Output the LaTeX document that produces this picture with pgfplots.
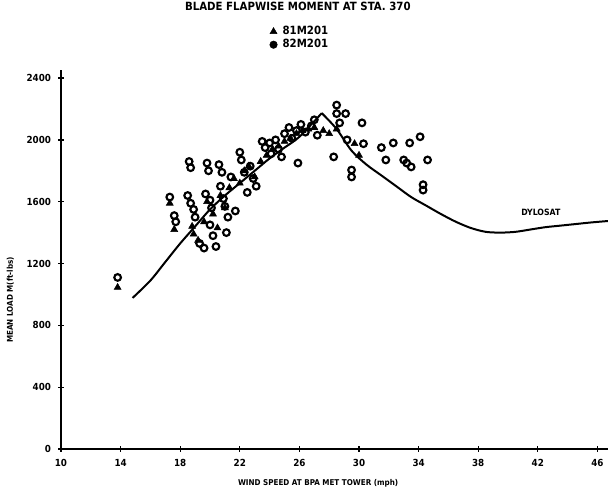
\documentclass[border=0pt]{standalone}
\usepackage{pgfplots}
\pgfplotsset{compat=1.18}
\usepackage{fontspec}
\setmainfont{DejaVu Sans Condensed}
\pgfplotstableread{
x y
13.8 1045
17.3 1590
17.6 1420
18.8 1440
18.9 1390
19.2 1350
19.6 1470
19.8 1600
20.2 1520
20.5 1430
20.7 1640
21.0 1560
21.3 1690
21.6 1750
22.0 1720
22.3 1800
22.6 1830
23.0 1760
23.4 1860
23.8 1900
24.2 1940
24.6 1960
25.0 1990
25.4 2010
25.8 2040
26.2 2060
26.6 2070
27.0 2080
27.6 2060
28.0 2040
28.5 2070
29.7 1975
30.0 1900
}\seriesA
\pgfplotstableread{
x y
13.8 1110
17.3 1630
17.6 1510
17.7 1470
18.6 1860
18.7 1820
18.5 1640
18.7 1590
18.9 1550
19.0 1500
19.3 1330
19.6 1300
19.8 1850
19.9 1800
19.7 1650
20.0 1610
20.1 1560
20.0 1450
20.2 1380
20.4 1310
20.6 1840
20.8 1790
20.7 1700
20.9 1620
21.0 1570
21.2 1500
21.1 1400
21.4 1760
21.7 1540
22.0 1920
22.1 1870
22.3 1790
22.5 1660
22.7 1830
22.9 1750
23.1 1700
23.5 1990
23.7 1950
24.0 1980
24.1 1910
24.4 2000
24.6 1940
24.8 1890
25.0 2040
25.3 2080
25.5 2010
25.8 2060
26.1 2100
25.9 1850
26.4 2050
26.8 2090
27.2 2030
27.0 2130
28.5 2225
28.5 2170
29.1 2170
28.7 2110
28.3 1890
29.2 2000
29.5 1805
29.5 1760
30.2 2110
30.3 1975
31.5 1950
32.3 1980
31.8 1870
33.4 1980
34.1 2020
33.0 1870
33.2 1850
33.5 1825
34.6 1870
34.3 1710
34.3 1675
}\seriesB
\pgfplotstableread{
x y
14.8 977
16.0 1090
17.0 1210
18.0 1330
19.0 1440
20.0 1550
21.0 1640
22.0 1720
23.0 1800
24.0 1880
25.0 1950
26.0 2020
27.5 2173
}\curveUp
\pgfplotstableread{
x y
27.5 2173
28.5 2070
29.5 1930
30.5 1840
31.5 1770
32.5 1700
33.5 1630
34.5 1575
35.5 1520
36.5 1470
37.5 1430
38.5 1405
39.5 1400
40.5 1405
41.5 1420
42.5 1435
43.5 1445
44.5 1455
45.5 1465
46.7 1475
}\curveDown
\begin{document}
\begin{tikzpicture}
\useasboundingbox (0,0) rectangle (456.75pt,372.75pt);
\begin{axis}[
  at={(45.75pt,36pt)}, anchor=south west,
  scale only axis, width=410.25pt, height=284.25pt,
  xmin=10, xmax=46.71, ymin=0, ymax=2452,
  axis lines=left, axis line style={-, line width=1.1pt},
  xtick={10,14,...,46}, ytick={0,400,...,2400},
  tick align=center, major tick length=4pt,
  tick style={line width=1pt, black},
  /pgf/number format/assume math mode=true,
  /pgf/number format/set thousands separator={},
  ticklabel style={font=\bfseries\fontsize{7.3}{8}\selectfont},
  xticklabel style={yshift=-2pt},
  yticklabel style={xshift=-2pt},
  xlabel={WIND SPEED AT BPA MET TOWER (mph)},
  ylabel={MEAN LOAD M(ft-lbs)},
  label style={font=\bfseries\fontsize{6}{7}\selectfont},
  xlabel style={at={(axis description cs:0.470,0)}, anchor=center, yshift=-25.5pt},
  ylabel style={at={(axis description cs:-0.0925,0.393)}, anchor=center, rotate=0},
  title={BLADE FLAPWISE MOMENT AT STA. 370},
  title style={at={(axis description cs:0.433,1.148)}, anchor=center, font=\bfseries\fontsize{8.5}{10}\selectfont},
  legend style={at={(axis description cs:0.44,1.084)}, anchor=center, draw=none, fill=none,
    font=\bfseries\fontsize{8.5}{9}\selectfont, row sep=0pt, inner sep=0pt,
    nodes={inner xsep=4pt, inner ysep=1pt}},
  legend cell align=left,
  clip=false,
]
\addplot[only marks, mark=triangle*, mark size=3pt, black] table {\seriesA};
\addlegendentry{81M201}
\addplot[only marks, mark=o, mark size=2.5pt, line width=1.6pt, black,
  legend image post style={mark=*, mark size=2.8pt, line width=0.4pt}] table {\seriesB};
\addlegendentry{82M201}
\addplot[smooth, line width=1.5pt, black, forget plot] table {\curveUp};
\addplot[smooth, line width=1.5pt, black, forget plot] table {\curveDown};
\node[font=\bfseries\fontsize{6.5}{7}\selectfont] at (axis cs:42.2,1533) {DYLOSAT};
\end{axis}
\end{tikzpicture}
\end{document}
